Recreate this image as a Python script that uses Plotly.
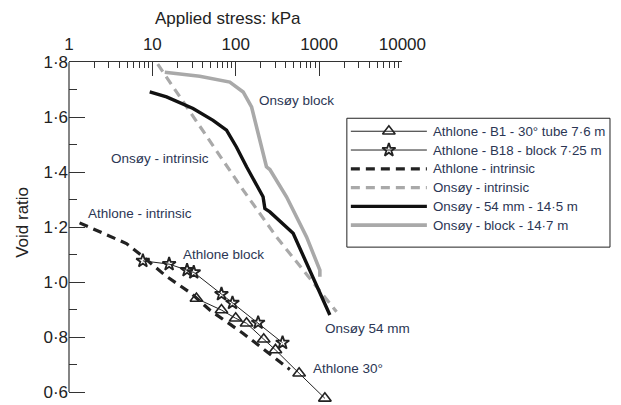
import numpy as np
import plotly.graph_objects as go

# ---- data ----
b1_stress = [33.8, 67.5, 100, 135, 217, 300, 577, 1175]
b1_void = [0.940, 0.898, 0.868, 0.850, 0.792, 0.753, 0.668, 0.577]

b18_stress = [7.7, 15.9, 26.1, 31.4, 67.5, 91.5, 186, 365]
b18_void = [1.077, 1.065, 1.043, 1.035, 0.956, 0.924, 0.852, 0.779]

ath_int_stress = [1.34, 2.56, 4.89, 8.1, 14.1, 29.5, 48.9, 123, 234, 446]
ath_int_void = [1.215, 1.177, 1.140, 1.087, 1.025, 0.958, 0.898, 0.813, 0.747, 0.682]

ons_int_stress = [11.6, 25.7, 58.8, 123, 309, 1622]
ons_int_void = [1.792, 1.637, 1.479, 1.334, 1.164, 0.892]

ons54_stress = [9.3, 14.8, 30.8, 53.5, 77.6, 102, 135, 213, 224, 257, 489, 1349]
ons54_void = [1.691, 1.673, 1.631, 1.588, 1.552, 1.491, 1.419, 1.310, 1.267, 1.255, 1.177, 0.880]

onsblk_stress = [14.1, 37, 85, 123, 155, 178, 213, 234, 257, 407, 708, 1023, 1023]
onsblk_void = [1.763, 1.748, 1.727, 1.691, 1.637, 1.564, 1.479, 1.419, 1.409, 1.310, 1.164, 1.043, 1.019]

x_ticks = [1, 10, 100, 1000, 10000]
x_ticklabels = ["1", "10", "100", "1000", "10000"]
y_ticks = [0.6, 0.8, 1.0, 1.2, 1.4, 1.6, 1.8]
y_ticklabels = ["0·6", "0·8", "1·0", "1·2", "1·4", "1·6", "1·8"]

labels = [
    ("Onsøy block", 541, 1.661),
    ("Onsøy - intrinsic", 12.3, 1.449),
    ("Athlone - intrinsic", 7.06, 1.249),
    ("Athlone block", 70.6, 1.101),
    ("Onsøy 54 mm", 3800, 0.831),
    ("Athlone 30°", 2234, 0.686),
]

TXT = "#2b3654"
AX = "#333333"
FONT = "Liberation Sans, Arial, sans-serif"

styles = [
    dict(name="Athlone - B1 - 30° tube 7·6 m", mode="lines+markers",
         line=dict(color="#222", width=1),
         marker=dict(symbol="triangle-up-open", size=11, color="#222", line=dict(width=1.6))),
    dict(name="Athlone - B18 - block 7·25 m", mode="lines+markers",
         line=dict(color="#222", width=1),
         marker=dict(symbol="star-open", size=10, color="#222", line=dict(width=1.8))),
    dict(name="Athlone - intrinsic", mode="lines",
         line=dict(color="#222", width=3.2, dash="9px,6px")),
    dict(name="Onsøy - intrinsic", mode="lines",
         line=dict(color="#a9a9a9", width=3.2, dash="9px,6px")),
    dict(name="Onsøy - 54 mm - 14·5 m", mode="lines",
         line=dict(color="#111", width=3.4)),
    dict(name="Onsøy - block - 14·7 m", mode="lines",
         line=dict(color="#a9a9a9", width=3.6)),
]
series = [(b1_stress, b1_void), (b18_stress, b18_void), (ath_int_stress, ath_int_void),
          (ons_int_stress, ons_int_void), (ons54_stress, ons54_void), (onsblk_stress, onsblk_void)]

fig = go.Figure()
for st, (xs, ys) in zip(styles, series):
    fig.add_trace(go.Scatter(x=xs, y=ys, xaxis="x", yaxis="y", showlegend=False,
                             cliponaxis=False if "markers" in st["mode"] else True, **st))

# ---- screen geometry (page body has an 8px margin) ----
X0, Y0, Y1 = 69.3, 61.7, 403.0        # plot-area left / top / bottom on screen
PX_PER_UNIT = 275.25                  # vertical pixels per unit of void ratio
FIG_W, FIG_H = 613, 397
PW = FIG_W - (X0 - 8)                  # width from plot left to figure right
main_frac = 333.2 / PW
y_low = 1.8 - (Y1 - Y0) / PX_PER_UNIT

# ---- legend drawn on an overlay (screen-pixel) axis pair ----
leg_x0, leg_x1, leg_y0, leg_y1 = 347, 610, 118, 247
sample_x0, sample_x1, text_x = 351, 427, 431
row_y0, row_dy = 131, 18.8
for i, st in enumerate(styles):
    yy = row_y0 + i * row_dy
    kw = dict(st)
    name = kw.pop("name")
    fig.add_trace(go.Scatter(x=[sample_x0, sample_x1], y=[yy, yy], mode="lines", line=kw["line"],
                             xaxis="x2", yaxis="y2", showlegend=False, hoverinfo="skip"))
    if "markers" in kw["mode"]:
        fig.add_trace(go.Scatter(x=[(sample_x0 + sample_x1) / 2], y=[yy], mode="markers", marker=kw["marker"],
                                 xaxis="x2", yaxis="y2", showlegend=False, hoverinfo="skip"))
    fig.add_annotation(x=text_x, y=yy, xref="x2", yref="y2", text=name, showarrow=False,
                       xanchor="left", yanchor="middle",
                       font=dict(family=FONT, size=13.3, color=TXT))
fig.add_shape(type="rect", xref="x2", yref="y2", x0=leg_x0, x1=leg_x1, y0=leg_y0, y1=leg_y1,
              line=dict(color="#222", width=1), fillcolor="rgba(0,0,0,0)", layer="below")

minor_vals = [m * 10 ** d for d in range(4) for m in range(2, 10)]

fig.update_layout(
    xaxis=dict(type="log", range=[0, 4], side="top", automargin=False, domain=[0, main_frac],
               anchor="y",
               showline=True, linecolor=AX, linewidth=1.2,
               ticks="inside", ticklen=14, tickwidth=1.2, tickcolor=AX,
               tickvals=x_ticks, ticktext=x_ticklabels, ticklabelstandoff=4,
               tickfont=dict(family=FONT, size=17, color="#222"),
               minor=dict(tickvals=minor_vals, ticks="inside", ticklen=6, tickwidth=1, tickcolor=AX),
               showgrid=False, zeroline=False),
    yaxis=dict(range=[y_low, 1.8], showline=False, automargin=False, domain=[0, 1], anchor="x",
               ticks="inside", ticklen=16, tickwidth=1.2, tickcolor=AX,
               tickvals=y_ticks, ticktext=y_ticklabels,
               tickfont=dict(family=FONT, size=17, color="#222"),
               minor=dict(tickvals=[0.7, 0.9, 1.1, 1.3, 1.5, 1.7], ticks="inside", ticklen=8, tickwidth=1, tickcolor=AX),
               showgrid=False, zeroline=False),
    xaxis2=dict(range=[X0, X0 + PW], domain=[0, 1], anchor="y2", visible=False, fixedrange=True),
    yaxis2=dict(range=[Y1, Y0], domain=[0, 1], anchor="x2", visible=False, fixedrange=True),
)

# left axis line from 0.6 to 1.8 only
fig.add_shape(type="line", xref="paper", yref="y", x0=0, x1=0, y0=0.6, y1=1.8,
              line=dict(color=AX, width=1.2))

for text, xv, yv in labels:
    fig.add_annotation(x=np.log10(xv), y=yv, xref="x", yref="y", text=text, showarrow=False,
                       xanchor="center", yanchor="middle",
                       font=dict(family=FONT, size=13.5, color=TXT))

def px2paper(px, py):
    return (px - X0) / PW, (Y1 - py) / (Y1 - Y0)

tx, ty = px2paper(228, 18)
fig.add_annotation(xref="paper", yref="paper", x=tx, y=ty,
                   text="Applied stress: kPa", showarrow=False,
                   xanchor="center", yanchor="middle",
                   font=dict(family=FONT, size=17, color="#222"))
vx, vy = px2paper(22, 222)
fig.add_annotation(xref="paper", yref="paper", x=vx, y=vy,
                   text="Void ratio", showarrow=False, textangle=-90,
                   xanchor="center", yanchor="middle",
                   font=dict(family=FONT, size=17, color="#222"))

fig.update_layout(
    width=FIG_W, height=FIG_H,
    margin=dict(l=X0 - 8, r=0, t=Y0 - 8, b=FIG_H - (Y1 - 8), autoexpand=False),
    paper_bgcolor="white", plot_bgcolor="rgba(0,0,0,0)",
    showlegend=False,
)

fig.write_html("out.html")
